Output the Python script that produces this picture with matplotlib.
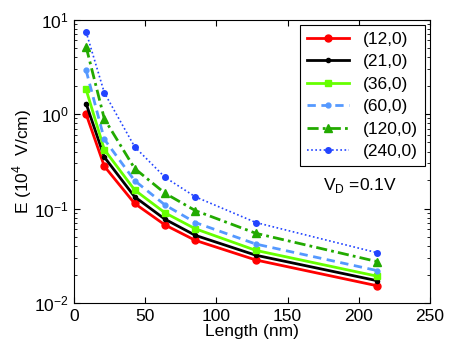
import numpy as np
import matplotlib
matplotlib.use("Agg")
import matplotlib.pyplot as plt

plt.rcParams['font.family'] = ['Liberation Sans', 'DejaVu Sans']
plt.rcParams['mathtext.fontset'] = 'custom'
plt.rcParams['mathtext.rm'] = 'Liberation Sans'

# Channel length (nm)
length = [8.5, 21.3, 42.6, 63.9, 85.2, 127.8, 213.0]

# Field E (10^4 V/cm) for each tube
e_12 = [1.00, 0.28, 0.113, 0.067, 0.046, 0.0285, 0.0152]
e_21 = [1.29, 0.35, 0.133, 0.077, 0.052, 0.032, 0.0172]
e_36 = [1.82, 0.42, 0.157, 0.090, 0.061, 0.036, 0.0192]
e_60 = [2.90, 0.54, 0.197, 0.109, 0.071, 0.042, 0.0220]
e_120 = [5.15, 0.89, 0.265, 0.145, 0.095, 0.0546, 0.0274]
e_240 = [7.40, 1.68, 0.45, 0.214, 0.133, 0.071, 0.034]

labels = ['(12,0)', '(21,0)', '(36,0)', '(60,0)', '(120,0)', '(240,0)']

fig = plt.figure(figsize=(4.5, 3.47), dpi=100)
ax = fig.add_axes([0.1644, 0.1268, 0.7912, 0.817])

ax.plot(length, e_12, color='#ff0000', lw=2, marker='o', ms=5, label=labels[0])
ax.plot(length, e_21, color='black', lw=2, marker='o', ms=3, label=labels[1])
ax.plot(length, e_36, color='#66ff00', lw=2, marker='s', ms=5, label=labels[2])
ax.plot(length, e_60, color='#5599ff', lw=2, ls=(0, (3, 2)), marker='o', ms=3.5, label=labels[3])
ax.plot(length, e_120, color='#22aa00', lw=2, ls=(0, (4, 1.5, 1, 1.5)), marker='^', ms=6, label=labels[4])
ax.plot(length, e_240, color='#2244ff', lw=1.2, ls=(0, (1, 1.5)), marker='o', ms=4, label=labels[5])

ax.set_yscale('log')
ax.set_xlim(0, 250)
ax.set_ylim(1e-2, 1e1)
ax.set_xticks([0, 50, 100, 150, 200, 250])
ax.tick_params(which='both', direction='in', top=True, right=True, labelsize=12.5)
ax.tick_params(which='major', length=4)
ax.tick_params(which='minor', length=2)
ax.tick_params(axis='x', pad=4)
ax.xaxis.set_minor_locator(matplotlib.ticker.NullLocator())

ax.set_xlabel('Length (nm)', fontsize=12.5, labelpad=0)
ax.set_ylabel(r'E (10$^4$  V/cm)', fontsize=12.5, labelpad=0)

ax.text(0.70, 0.40, r'V$_\mathregular{D}$ =0.1V', transform=ax.transAxes, fontsize=12.5)

leg = ax.legend(loc='upper right', fontsize=12.5, frameon=True, fancybox=False,
                edgecolor='black', framealpha=1, handlelength=2.4,
                labelspacing=0.42, borderaxespad=0.3, borderpad=0.4)
leg.get_frame().set_linewidth(0.8)

fig.savefig('out.png', dpi=100)
